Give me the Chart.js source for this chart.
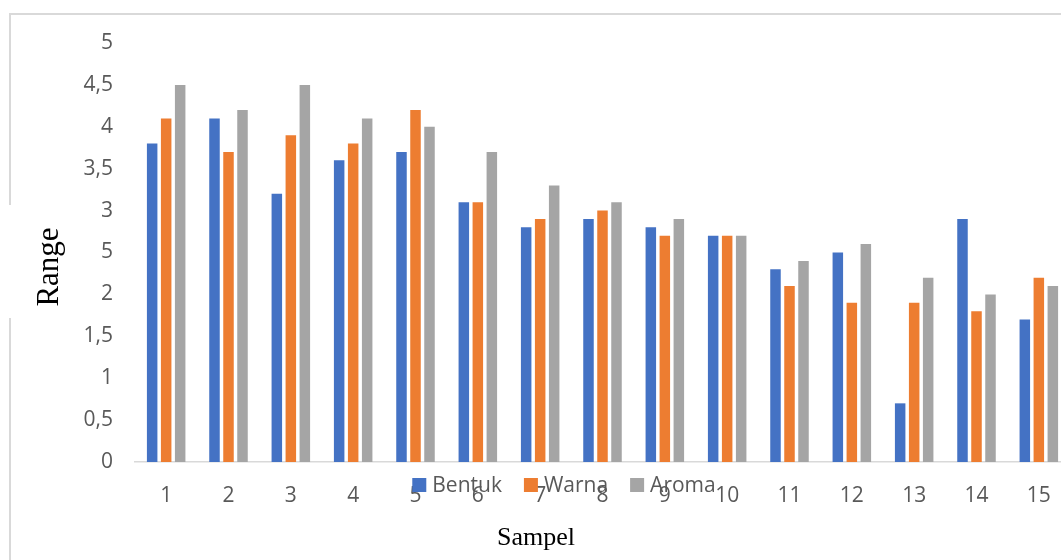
<!DOCTYPE html>
<html>
<head>
<meta charset="utf-8">
<script src="https://cdn.jsdelivr.net/npm/chart.js@4"></script>
<style>
  html, body { margin: 0; background: #fff; overflow: hidden; }
  #wrap { position: relative; width: 1061px; height: 560px; overflow: hidden; }
  #frame { position: absolute; left: 9px; top: 13px; width: 1200px; height: 700px;
           border-left: 2px solid #d9d9d9; border-top: 2px solid #d9d9d9; }
  #myChart { position: absolute; left: 0; top: 0; }
</style>
</head>
<body>
<div id="wrap">
  <div id="frame"></div>
  <canvas id="myChart" width="1080" height="560" style="width:1080px;height:560px"></canvas>
</div>
<script>
const sampel = ["1", "2", "3", "4", "5", "6", "7", "8", "9", "10", "11", "12", "13", "14", "15"];
const bentuk = [3.8, 4.1, 3.2, 3.6, 3.7, 3.1, 2.8, 2.9, 2.8, 2.7, 2.3, 2.5, 0.7, 2.9, 1.7];
const warna  = [4.1, 3.7, 3.9, 3.8, 4.2, 3.1, 2.9, 3.0, 2.7, 2.7, 2.1, 1.9, 1.9, 1.8, 2.2];
const aroma  = [4.5, 4.2, 4.5, 4.1, 4.0, 3.7, 3.3, 3.1, 2.9, 2.7, 2.4, 2.6, 2.2, 2.0, 2.1];

const fonteTick = "21px 'Open Sans'";
const corTexto = "#595959";

// legenda e titulos desenhados por cima, como no Excel
const extras = {
  id: "extras",
  afterDraw(chart) {
    const ctx = chart.ctx;
    ctx.save();

    // titulo Y com fundo branco (cobre a borda e parte do rotulo)
    ctx.fillStyle = "#fff";
    ctx.fillRect(4, 205, 98, 113);
    ctx.translate(50, 267);
    ctx.rotate(-Math.PI / 2);
    ctx.fillStyle = "#000";
    ctx.font = "31px 'Liberation Serif'";
    ctx.textAlign = "center";
    ctx.textBaseline = "middle";
    ctx.fillText("Range", 0, 0);
    ctx.setTransform(1, 0, 0, 1, 0, 0);

    // titulo X
    ctx.font = "26px 'Liberation Serif'";
    ctx.textAlign = "center";
    ctx.textBaseline = "alphabetic";
    ctx.fillText("Sampel", 536, 545);

    // legenda
    ctx.font = fonteTick;
    ctx.textAlign = "left";
    const itens = chart.data.datasets;
    let total = 0;
    itens.forEach((ds, i) => {
      total += 20 + ctx.measureText(ds.label).width + (i < itens.length - 1 ? 22 : 0);
    });
    let x = 564 - total / 2;
    itens.forEach(ds => {
      ctx.fillStyle = ds.backgroundColor;
      ctx.fillRect(x, 478, 14, 14);
      ctx.fillStyle = corTexto;
      ctx.fillText(ds.label, x + 20, 492);
      x += 20 + ctx.measureText(ds.label).width + 22;
    });
    ctx.restore();
  }
};

new Chart(document.getElementById("myChart"), {
  type: "bar",
  data: {
    labels: sampel,
    datasets: [
      { label: "Bentuk", data: bentuk, backgroundColor: "#4472c4" },
      { label: "Warna", data: warna, backgroundColor: "#ed7d31" },
      { label: "Aroma", data: aroma, backgroundColor: "#a5a5a5" },
    ],
  },
  options: {
    responsive: false,
    animation: false,
    devicePixelRatio: 1,
    layout: { padding: { left: 10, top: 43, right: 10, bottom: 0 } },
    datasets: { bar: { categoryPercentage: 0.674, barPercentage: 0.75 } },
    scales: {
      x: {
        grid: { display: false, drawTicks: false },
        border: { display: true, color: "#d9d9d9", width: 1.5 },
        ticks: { color: corTexto, font: { family: "'Open Sans'", size: 21 }, padding: 21, maxRotation: 0 },
        afterFit: s => { s.height = 98; },
      },
      y: {
        min: 0,
        max: 5,
        grid: { display: false, drawTicks: false },
        border: { display: false },
        ticks: {
          stepSize: 0.5,
          color: corTexto,
          font: { family: "'Open Sans'", size: 21 },
          padding: 22,
          callback: v => String(v).replace(".", ","),
        },
        afterFit: s => { s.width = 125; },
      },
    },
    plugins: { legend: { display: false }, tooltip: { enabled: false } },
  },
  plugins: [extras],
});
</script>
</body>
</html>
